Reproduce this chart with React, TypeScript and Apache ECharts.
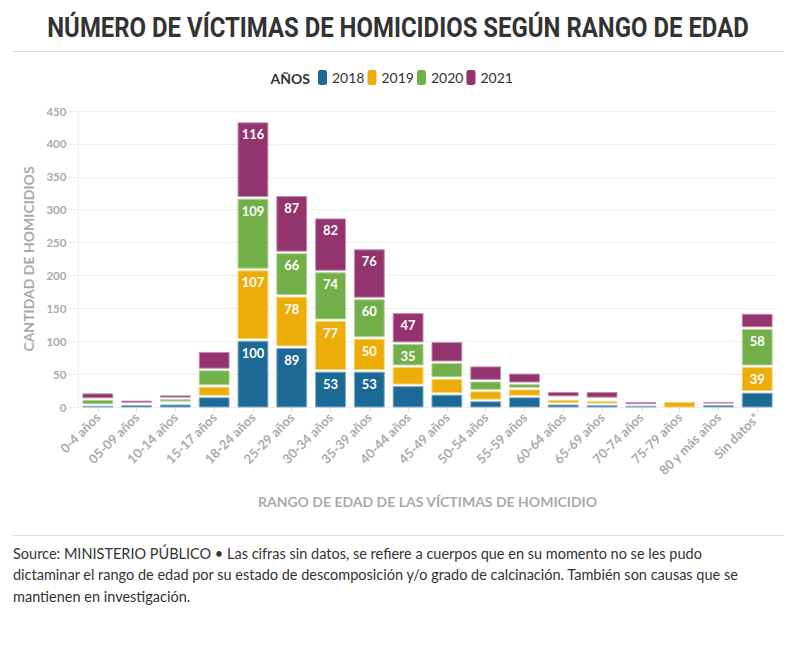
import React, { useEffect, useRef } from "react";
import * as echarts from "echarts";

const categories = [
  "0-4 años", "05-09 años", "10-14 años", "15-17 años", "18-24 años", "25-29 años",
  "30-34 años", "35-39 años", "40-44 años", "45-49 años", "50-54 años", "55-59 años",
  "60-64 años", "65-69 años", "70-74 años", "75-79 años", "80 y más años", "Sin datos*",
];
const years = ["2018", "2019", "2020", "2021"];
const v2018 = [1, 2, 3, 14, 100, 89, 53, 53, 31, 18, 8, 14, 3, 2, 1, 0, 2, 21];
const v2019 = [0, 0, 2, 16, 107, 78, 77, 50, 29, 24, 15, 12, 7, 6, 0, 7, 0, 39];
const v2020 = [9, 1, 6, 25, 109, 66, 74, 60, 35, 24, 15, 8, 3, 3, 0, 0, 0, 58];
const v2021 = [10, 6, 6, 28, 116, 87, 82, 76, 47, 32, 23, 16, 9, 11, 6, 0, 5, 23];
const colors = ["#1D6996", "#EDAD08", "#73AF48", "#94346E"];
const yTicks = { min: 0, max: 450, interval: 50 };

const title = "NÚMERO DE VÍCTIMAS DE HOMICIDIOS SEGÚN RANGO DE EDAD";
const footerLines = [
  "Source: MINISTERIO PÚBLICO • Las cifras sin datos, se refiere a cuerpos que en su momento no se les pudo",
  "dictaminar el rango de edad por su estado de descomposición y/o grado de calcinación. También son causas que se",
  "mantienen en investigación.",
];

const FONT = "Lato, 'Noto Sans', sans-serif";
const GREY = "#aaaaaa";

function tint(hex: string, f: number) {
  const n = parseInt(hex.slice(1), 16);
  const r = (n >> 16) & 255, g = (n >> 8) & 255, b = n & 255;
  const m = (c: number) => Math.round(c + (255 - c) * f);
  return `rgb(${m(r)},${m(g)},${m(b)})`;
}

export default function App() {
  const ref = useRef<HTMLDivElement>(null);
  useEffect(() => {
    document.body.style.margin = "0";
    const chart = echarts.init(ref.current!, undefined, { renderer: "svg" });
    const seriesData = [v2018, v2019, v2020, v2021];
    const starts = seriesData.map((_, si) =>
      categories.map((__, ci) => {
        let s = 0;
        for (let k = 0; k < si; k++) s += seriesData[k][ci];
        return s;
      })
    );
    const GAP = 2.6;
    const option: any = {
      animation: false,
      textStyle: { fontFamily: FONT },
      graphic: [
        {
          type: "text",
          x: 398,
          y: 27,
          scaleX: 0.855,
          style: {
            text: title,
            fill: "#333333",
            fontSize: 28,
            fontWeight: "bold",
            fontFamily: "Roboto, sans-serif",
            align: "center",
            verticalAlign: "middle",
            textAlign: "center",
            textVerticalAlign: "middle",
          },
        },
        { type: "line", shape: { x1: 12, y1: 51.5, x2: 784, y2: 51.5 }, style: { stroke: "#dddddd", lineWidth: 1 } },
        { type: "line", shape: { x1: 12, y1: 535.5, x2: 784, y2: 535.5 }, style: { stroke: "#dddddd", lineWidth: 1 } },
        {
          type: "text",
          x: 310,
          y: 78,
          style: {
            text: "AÑOS",
            fill: "#333333",
            fontSize: 14,
            fontWeight: "bold",
            fontFamily: FONT,
            align: "right",
            verticalAlign: "middle",
            textAlign: "right",
            textVerticalAlign: "middle",
          },
        },
        ...footerLines.map((t, i) => ({
          type: "text",
          x: 13,
          y: 553 + i * 21.5,
          style: {
            text: t,
            fill: "#333333",
            fontSize: 14.5,
            fontFamily: FONT,
            align: "left",
            verticalAlign: "middle",
            textAlign: "left",
            textVerticalAlign: "middle",
          },
        })),
      ],
      legend: {
        left: 318,
        top: 70,
        padding: 0,
        itemWidth: 9,
        itemHeight: 15,
        itemGap: 3,
        icon: "roundRect",
        textStyle: { fontSize: 14, color: "#333333", fontFamily: FONT },
        data: years,
      },
      grid: { left: 78.4, right: 19.4, top: 111, bottom: 243, containLabel: false },
      xAxis: {
        type: "category",
        data: categories,
        name: "RANGO DE EDAD DE LAS VÍCTIMAS DE HOMICIDIO",
        nameLocation: "middle",
        nameGap: 87,
        nameTextStyle: { color: GREY, fontWeight: "bold", fontSize: 14, fontFamily: FONT },
        axisLine: { lineStyle: { color: "#eeeeee" } },
        axisTick: { show: true, alignWithLabel: true, length: 5, lineStyle: { color: "#dddddd" } },
        axisLabel: {
          rotate: 45,
          interval: 0,
          margin: 8,
          color: GREY,
          fontWeight: "bold",
          fontSize: 13,
          fontFamily: FONT,
        },
      },
      yAxis: {
        type: "value",
        min: yTicks.min,
        max: yTicks.max,
        interval: yTicks.interval,
        name: "CANTIDAD DE HOMICIDIOS",
        nameLocation: "middle",
        nameRotate: 90,
        nameGap: 42,
        nameTextStyle: { color: GREY, fontWeight: "bold", fontSize: 14, fontFamily: FONT },
        axisLine: { show: true, lineStyle: { color: "#eeeeee" } },
        axisTick: { show: true, length: 10, lineStyle: { color: "#eeeeee" } },
        splitLine: { lineStyle: { color: "#eeeeee" } },
        axisLabel: { margin: 12, color: GREY, fontWeight: "bold", fontSize: 11.5, fontFamily: FONT },
      },
      series: years.map((y, si) => ({
        name: y,
        type: "custom",
        color: colors[si],
        itemStyle: { color: colors[si] },
        encode: { x: 0, y: 1 },
        data: categories.map((_, ci) => [ci, seriesData[si][ci], starts[si][ci]]),
        renderItem: (params: any, api: any) => {
          const ci = api.value(0);
          const v = api.value(1);
          const s = api.value(2);
          if (!v) return { type: "group", children: [] };
          const pb = api.coord([ci, s]);
          const pt = api.coord([ci, s + v]);
          const bw = api.size([1, 0])[0] * 0.77;
          const yTop = pt[1];
          const yBot = s > 0 ? pb[1] - GAP : pb[1];
          const h = yBot - yTop;
          if (h < 0.3) return { type: "group", children: [] };
          const children: any[] = [
            {
              type: "rect",
              shape: { x: pb[0] - bw / 2, y: yTop, width: bw, height: h },
              style: { fill: colors[si], stroke: tint(colors[si], 0.45), lineWidth: 1 },
            },
          ];
          if (v >= 35) {
            children.push({
              type: "text",
              x: pb[0],
              y: yTop + 5,
              style: {
                text: String(v),
                fill: "#ffffff",
                fontSize: 13,
                fontWeight: "bold",
                fontFamily: FONT,
                align: "center",
                verticalAlign: "top",
                textAlign: "center",
                textVerticalAlign: "top",
              },
            });
          }
          return { type: "group", children };
        },
      })),
    };
    chart.setOption(option);
    return () => chart.dispose();
  }, []);
  return <div ref={ref} style={{ width: 796, height: 650 }} />;
}
